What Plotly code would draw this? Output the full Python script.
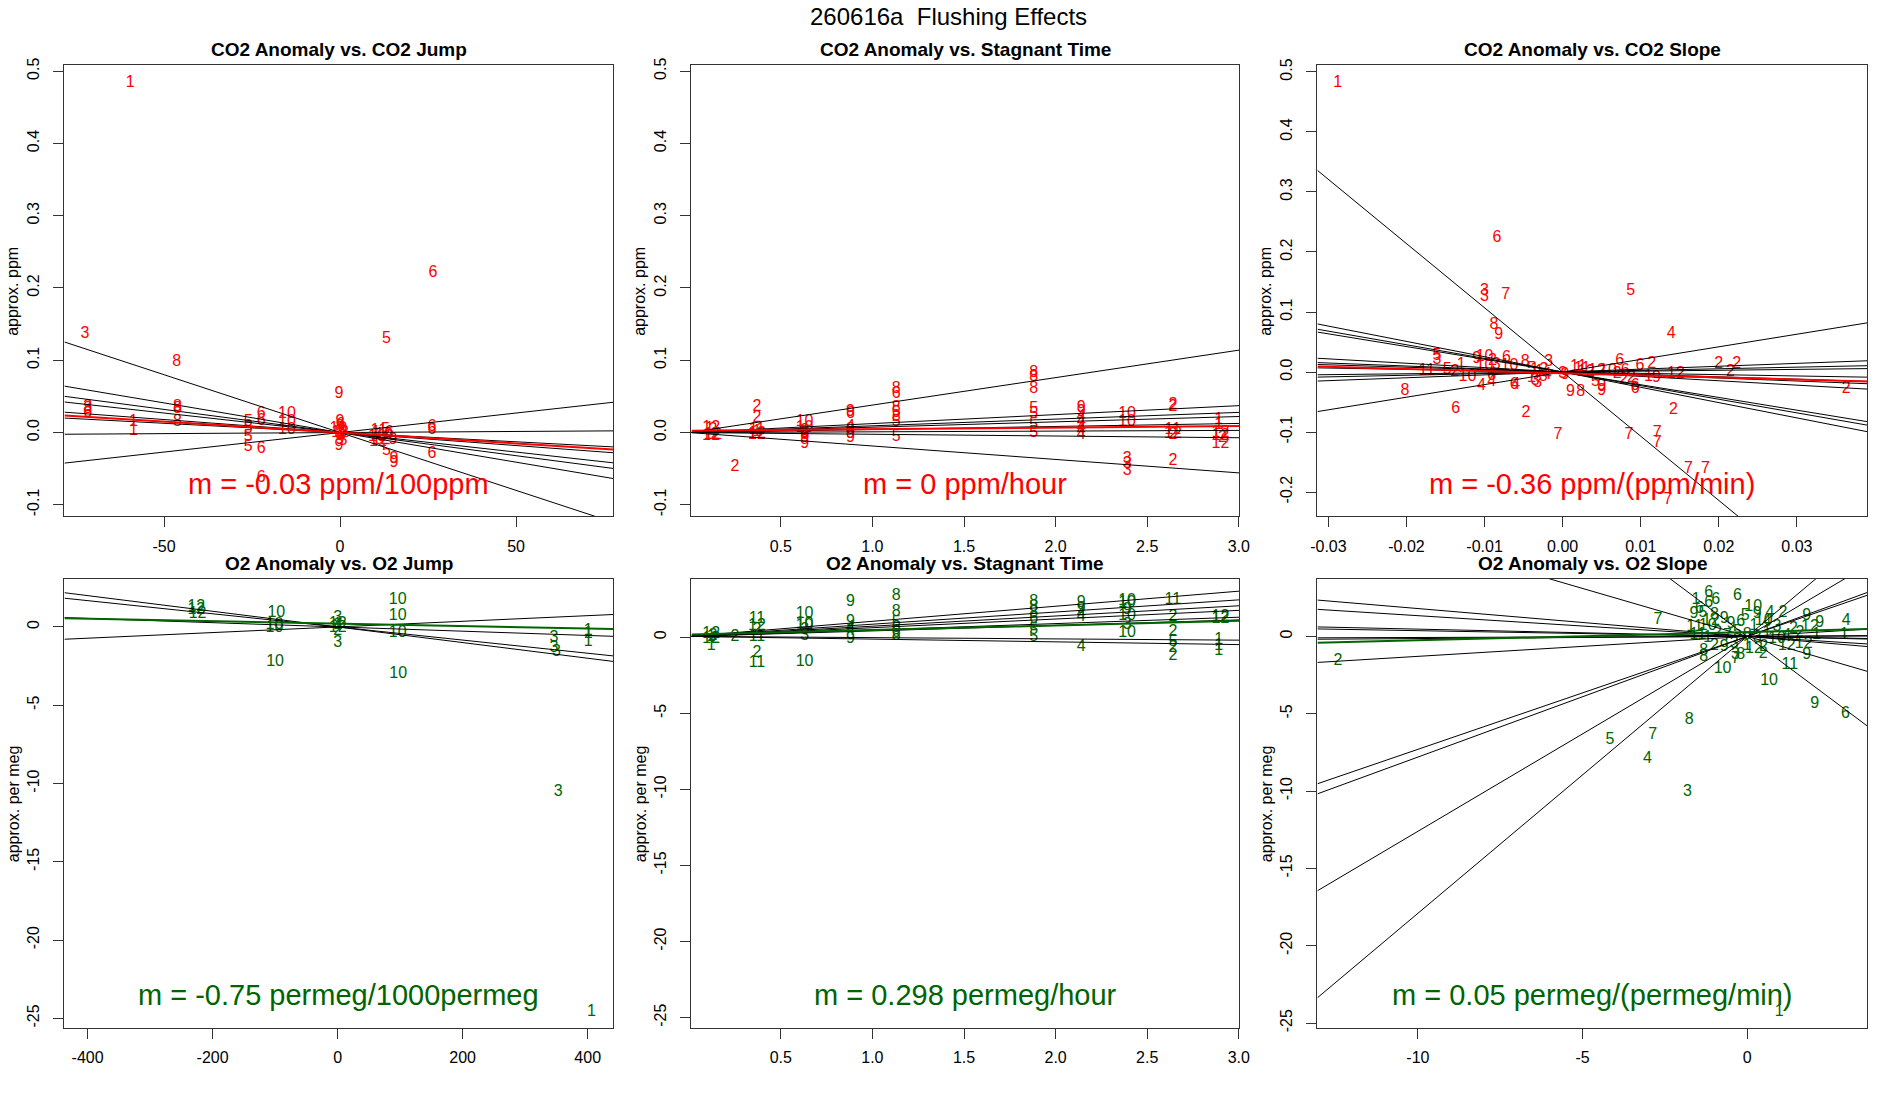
import plotly.graph_objects as go

W, H = 1900, 1100
FONT = "Liberation Sans, Arial, Helvetica, sans-serif"
RED = "#FF0000"
GREEN = "#006400"

MAIN_TITLE = "260616a  Flushing Effects"

# ---------------- Panel 1: CO2 Anomaly vs. CO2 Jump ----------------
p1_points = [("1", -59.6, 0.483), ("3", -72.5, 0.136), ("8", -46.4, 0.097), ("6", 26.4, 0.221),
             ("5", 13.2, 0.130), ("9", -0.3, 0.054), ("3", -71.7, 0.036), ("8", -71.7, 0.033),
             ("6", -71.7, 0.027), ("1", -58.7, 0.015), ("1", -58.7, 0.002), ("8", -46.2, 0.036),
             ("8", -46.2, 0.032), ("8", -46.2, 0.015), ("5", -26.1, 0.015), ("5", -26.1, 0.005),
             ("5", -26.1, -0.006), ("5", -26.1, -0.020), ("6", -22.4, 0.025), ("6", -22.4, 0.016),
             ("6", -22.4, -0.023), ("10", -15.1, 0.026), ("10", -15.1, 0.014), ("10", -15.1, 0.003),
             ("6", -22.4, -0.063),
             ("9", 0.0, 0.015), ("8", 0.0, 0.008), ("3", 0.5, 0.002), ("12", 0.0, 0.0), ("4", 0.5, -0.004),
             ("9", 0.0, -0.010), ("9", -0.3, -0.018), ("5", 0.8, -0.012), ("10", -0.5, 0.005),
             ("6", 0.2, 0.011), ("1", 0.3, -0.002),
             ("1", 10.2, -0.001), ("10", 10.5, -0.006), ("11", 11.0, 0.002), ("12", 11.5, -0.010),
             ("5", 12.9, 0.004), ("10", 12.5, -0.004), ("6", 14.0, 0.0), ("5", 13.2, -0.025),
             ("9", 15.0, -0.011), ("9", 15.3, -0.037), ("9", 15.3, -0.042), ("12", 10.8, -0.013),
             ("6", 26.1, 0.008), ("6", 26.1, 0.003), ("6", 26.1, -0.030)]
p1_slopes = [-0.0016, -0.00082, -0.00064, -0.00054, -0.00036, -0.000256, 0.00003, 0.00054]
p1_icpts = [0, 0, 0, 0, 0, 0, 0, 0]
p1_fit = (0.0, -0.0003)
p1_xrange = [-78.3, 77.6]
p1_yrange = [-0.116, 0.508]
p1_xticks = [-50, 0, 50]
p1_xticklabels = ["-50", "0", "50"]
p1_yticks = [-0.1, 0.0, 0.1, 0.2, 0.3, 0.4, 0.5]
p1_yticklabels = ["-0.1", "0.0", "0.1", "0.2", "0.3", "0.4", "0.5"]

# ---------------- Panel 2: CO2 Anomaly vs. Stagnant Time ----------------
p2_points = [("12", 0.12, 0.006), ("1", 0.11, 0.005), ("2", 0.13, 0.004), ("12", 0.12, -0.005),
             ("12", 0.13, -0.003), ("2", 0.14, -0.004), ("2", 0.25, -0.048),
             ("2", 0.37, 0.036), ("2", 0.37, 0.020), ("11", 0.37, 0.003), ("12", 0.37, -0.002),
             ("1", 0.37, 0.001), ("12", 0.37, -0.004),
             ("10", 0.63, 0.015), ("10", 0.63, 0.006), ("9", 0.63, 0.002), ("6", 0.63, 0.0),
             ("9", 0.63, -0.008), ("9", 0.63, -0.016), ("3", 0.63, -0.004),
             ("9", 0.88, 0.029), ("6", 0.88, 0.025), ("4", 0.88, 0.008), ("8", 0.88, 0.003),
             ("9", 0.88, -0.002), ("9", 0.88, -0.007),
             ("8", 1.13, 0.060), ("6", 1.13, 0.054), ("8", 1.13, 0.034), ("5", 1.13, 0.027),
             ("8", 1.13, 0.022), ("5", 1.13, 0.015), ("5", 1.13, -0.006),
             ("8", 1.88, 0.082), ("8", 1.88, 0.077), ("8", 1.88, 0.060), ("5", 1.88, 0.032),
             ("5", 1.88, 0.025), ("5", 1.88, 0.010), ("5", 1.88, -0.001),
             ("9", 2.14, 0.034), ("9", 2.14, 0.028), ("4", 2.14, 0.022), ("4", 2.14, 0.015),
             ("4", 2.14, 0.006), ("4", 2.14, 0.002), ("4", 2.14, -0.004),
             ("10", 2.39, 0.025), ("10", 2.39, 0.015), ("3", 2.39, -0.037), ("3", 2.39, -0.043),
             ("3", 2.39, -0.053),
             ("2", 2.64, 0.038), ("2", 2.64, 0.035), ("11", 2.64, 0.004), ("12", 2.64, -0.002),
             ("2", 2.64, -0.004), ("2", 2.64, -0.040),
             ("1", 2.89, 0.017), ("1", 2.89, 0.011), ("12", 2.90, -0.001), ("12", 2.90, -0.005),
             ("2", 2.91, -0.008), ("12", 2.90, -0.016)]
p2_slopes = [0.038, 0.0124, 0.0093, 0.0074, 0.0042, 0.001, -0.0024, -0.0186]
p2_icpts = [0.0, 0.0, 0.0, 0.0, 0.0, 0.0, 0.0, 0.0]
p2_fit = (0.0025, 0.0022)
p2_xrange = [0.0124, 3.002]
p2_yrange = [-0.116, 0.508]
p2_xticks = [0.5, 1.0, 1.5, 2.0, 2.5, 3.0]
p2_xticklabels = ["0.5", "1.0", "1.5", "2.0", "2.5", "3.0"]
p2_yticks = p1_yticks
p2_yticklabels = p1_yticklabels

# ---------------- Panel 3: CO2 Anomaly vs. CO2 Slope ----------------
p3_points = [("1", -0.0288, 0.482), ("6", -0.0084, 0.224), ("3", -0.0100, 0.135), ("3", -0.0100, 0.125),
             ("7", -0.0073, 0.129), ("5", 0.0087, 0.135), ("8", -0.0088, 0.079), ("9", -0.0082, 0.061),
             ("4", 0.0139, 0.064), ("5", -0.0161, 0.026), ("3", -0.0161, 0.020), ("11", -0.0174, 0.001),
             ("5", -0.0148, 0.003), ("2", -0.0138, 0.000), ("1", -0.0130, 0.011), ("9", -0.0110, 0.022),
             ("10", -0.0100, 0.025), ("10", -0.0100, 0.010), ("2", -0.0090, 0.018), ("6", -0.0072, 0.024),
             ("10", -0.0068, 0.010), ("3", -0.0085, 0.012), ("10", -0.0122, -0.009), ("4", -0.0104, -0.023),
             ("4", -0.0091, -0.017), ("6", -0.0091, -0.006), ("8", -0.0202, -0.031), ("6", -0.0137, -0.061),
             ("4", -0.0060, -0.021), ("6", -0.0062, -0.022), ("2", -0.0047, -0.069), ("8", -0.0048, 0.017),
             ("7", -0.0006, -0.105), ("1", -0.0040, -0.010), ("3", -0.0035, -0.015), ("5", -0.0040, 0.005),
             ("1", -0.0030, 0.000), ("5", -0.0025, -0.008), ("3", -0.0032, -0.018), ("4", -0.0020, -0.005),
             ("12", -0.0030, 0.003), ("3", -0.0018, 0.017), ("3", 0.0000, -0.004), ("9", 0.0003, -0.005),
             ("11", 0.0020, 0.009), ("11", 0.0025, 0.005), ("12", 0.0030, 0.000), ("12", 0.0044, 0.002),
             ("9", 0.0010, -0.033), ("8", 0.0023, -0.033), ("5", 0.0042, -0.017), ("9", 0.0050, -0.023),
             ("9", 0.0050, -0.031), ("10", 0.0058, 0.002), ("2", 0.0070, -0.004), ("6", 0.0080, 0.001),
             ("2", 0.0088, -0.010), ("6", 0.0073, 0.018), ("6", 0.0099, 0.010), ("2", 0.0114, 0.014),
             ("6", 0.0093, -0.023), ("6", 0.0093, -0.028), ("2", 0.0078, -0.014), ("1", 0.0110, -0.008),
             ("9", 0.0120, -0.010), ("12", 0.0145, -0.003), ("2", 0.0142, -0.064), ("2", 0.0200, 0.014),
             ("2", 0.0223, 0.013), ("2", 0.0215, 0.000), ("2", 0.0363, -0.028), ("7", 0.0085, -0.105),
             ("7", 0.0121, -0.102), ("7", 0.0121, -0.119), ("7", 0.0161, -0.162), ("7", 0.0183, -0.162),
             ("7", 0.0135, -0.213)]
p3_slopes = [-10.7, -2.55, -2.27, -2.12, -0.73, -0.5, -0.4, -0.22, 0.146, 0.27, 0.48, 2.1]
p3_icpts = [0] * 12
p3_fit = (-0.002, -0.35)
p3_xrange = [-0.0314, 0.039]
p3_yrange = [-0.2406, 0.511]
p3_xticks = [-0.03, -0.02, -0.01, 0.0, 0.01, 0.02, 0.03]
p3_xticklabels = ["-0.03", "-0.02", "-0.01", "0.00", "0.01", "0.02", "0.03"]
p3_yticks = [-0.2, -0.1, 0.0, 0.1, 0.2, 0.3, 0.4, 0.5]
p3_yticklabels = ["-0.2", "-0.1", "0.0", "0.1", "0.2", "0.3", "0.4", "0.5"]

# ---------------- Panel 4: O2 Anomaly vs. O2 Jump ----------------
p4_points = [("12", -226, 1.28), ("12", -226, 1.10), ("12", -224, 0.85), ("10", -98, 0.88),
             ("10", -101, 0.12), ("10", -101, -0.05), ("10", -100, -2.27), ("3", 0, 0.55),
             ("12", 0, 0.2), ("4", 0, 0.05), ("12", 0, -0.1), ("1", 0, 0.1), ("2", 0, -0.25),
             ("3", 0, -1.0), ("10", 96, 1.73), ("10", 96, 0.72), ("10", 96, -0.40), ("10", 97, -3.03),
             ("3", 346, -0.70), ("3", 346, -1.37), ("3", 350, -1.62), ("3", 353, -10.57),
             ("1", 401, -0.25), ("1", 401, -0.47), ("1", 401, -0.97), ("1", 406, -24.6)]
p4_slopes = [-0.0050, -0.0042, -0.00136, 0.0018]
p4_icpts = [0, 0, 0, 0]
p4_fit = (0.21, -0.00079)
p4_xrange = [-437, 440.8]
p4_yrange = [-25.6, 3.08]
p4_xticks = [-400, -200, 0, 200, 400]
p4_xticklabels = ["-400", "-200", "0", "200", "400"]
p4_yticks = [-25, -20, -15, -10, -5, 0]
p4_yticklabels = ["-25", "-20", "-15", "-10", "-5", "0"]

# ---------------- Panel 5: O2 Anomaly vs. Stagnant Time ----------------
p5_points = [("12", 0.12, 0.2), ("1", 0.12, 0.0), ("2", 0.13, 0.1), ("12", 0.12, -0.15),
             ("1", 0.12, -0.55), ("2", 0.14, -0.1), ("2", 0.25, 0.02),
             ("11", 0.37, 1.18), ("12", 0.37, 0.72), ("2", 0.37, 0.5), ("11", 0.37, 0.02),
             ("2", 0.37, -1.06), ("11", 0.37, -1.67),
             ("10", 0.63, 1.53), ("10", 0.63, 0.88), ("10", 0.63, 0.72), ("3", 0.63, 0.09),
             ("3", 0.63, 0.45), ("10", 0.63, -1.62),
             ("9", 0.88, 2.34), ("9", 0.88, 1.02), ("4", 0.88, 0.6), ("4", 0.88, 0.4), ("9", 0.88, -0.09),
             ("8", 1.13, 2.73), ("8", 1.13, 1.64), ("5", 1.13, 0.95), ("6", 1.13, 0.6), ("6", 1.13, 0.3),
             ("8", 1.13, 0.09),
             ("8", 1.88, 2.34), ("8", 1.88, 2.0), ("8", 1.88, 1.6), ("6", 1.88, 1.18), ("5", 1.88, 0.49),
             ("5", 1.88, 0.02),
             ("9", 2.14, 2.22), ("9", 2.14, 1.87), ("4", 2.14, 1.55), ("4", 2.14, 1.30), ("4", 2.14, -0.62),
             ("10", 2.39, 2.40), ("10", 2.39, 2.25), ("9", 2.39, 1.76), ("10", 2.39, 1.41), ("3", 2.39, 0.8),
             ("10", 2.39, 0.25),
             ("11", 2.64, 2.45), ("2", 2.64, 1.30), ("2", 2.64, 0.37), ("5", 2.64, -0.32), ("2", 2.64, -0.74),
             ("2", 2.64, -1.25),
             ("12", 2.90, 1.30), ("12", 2.90, 1.18), ("1", 2.89, -0.20), ("1", 2.89, -0.55), ("1", 2.89, -0.90)]
p5_slopes = [0.99, 0.80, 0.67, 0.57, 0.42, 0.36, -0.083, -0.18]
p5_icpts = [0.05] * 8
p5_fit = (0.17, 0.30)
p5_xrange = [0.0124, 3.002]
p5_yrange = [-25.67, 3.84]
p5_xticks = p2_xticks
p5_xticklabels = p2_xticklabels
p5_yticks = p4_yticks
p5_yticklabels = p4_yticklabels

# ---------------- Panel 6: O2 Anomaly vs. O2 Slope ----------------
p6_points = [("6", -0.30, 2.58), ("6", -1.17, 2.83), ("6", -0.96, 2.38), ("6", -1.17, 2.13), ("1", -1.56, 2.38),
             ("6", -1.45, 1.75), ("9", -1.62, 1.45), ("5", -1.35, 1.5), ("10", 0.18, 1.87), ("7", -2.71, 1.05),
             ("4", 0.69, 1.49), ("2", 1.08, 1.49), ("5", -0.06, 1.3), ("9", 0.30, 1.42), ("8", -1.0, 1.4),
             ("9", -0.7, 1.1), ("12", -1.1, 1.0), ("11", -1.6, 0.6), ("10", -1.2, 0.7), ("9", -0.5, 0.8),
             ("6", -0.2, 0.9), ("1", 0.2, 0.7), ("4", 0.6, 0.9), ("3", 0.9, 0.6), ("2", 1.4, 0.5),
             ("12", 1.9, 0.6), ("9", 2.2, 0.85), ("10", 0.5, 1.0), ("9", 1.8, 1.3),
             ("11", -1.5, 0.1), ("1", -1.2, -0.1), ("2", -0.9, 0.2), ("7", -0.6, 0.0), ("5", -0.3, 0.3),
             ("8", 0.0, 0.1), ("3", 0.3, -0.1), ("1", 0.6, 0.2), ("10", 0.9, -0.2), ("4", 1.2, 0.0),
             ("2", 1.6, 0.2), ("1", 2.1, 0.1), ("1", 2.94, 0.08), ("4", 3.0, 1.0),
             ("2", -1.0, -0.6), ("9", -0.7, -0.7), ("3", -0.4, -0.5), ("1", 0.0, -0.6), ("12", 0.2, -0.8),
             ("2", 0.5, -0.7), ("12", 1.2, -0.6), ("12", 1.71, -0.5), ("9", 1.8, -1.2), ("11", 1.29, -1.83),
             ("10", 0.66, -2.9), ("10", -0.75, -2.1), ("9", 2.05, -4.4), ("6", 2.98, -5.0),
             ("8", -1.32, -0.94), ("8", -1.32, -1.3), ("3", -0.36, -1.2), ("7", -0.36, -1.45),
             ("8", -0.2, -1.2), ("2", 0.48, -1.12), ("2", -12.43, -1.6), ("5", -4.17, -6.69),
             ("7", -2.87, -6.35), ("4", -3.03, -7.92), ("8", -1.76, -5.41), ("3", -1.82, -10.08),
             ("1", 0.97, -24.3)]
p6_slopes = [-1.59, -0.62, -0.18, -0.134, -0.047, -0.037, 0.007, 0.014, 0.129, 0.73, 0.78, 1.26, 1.79]
p6_icpts = [0] * 13
p6_fit = (0.28, 0.053)
p6_xrange = [-13.05, 3.64]
p6_yrange = [-25.3, 3.73]
p6_xticks = [-10, -5, 0]
p6_xticklabels = ["-10", "-5", "0"]
p6_yticks = p4_yticks
p6_yticklabels = p4_yticklabels

titles = ["CO2 Anomaly vs. CO2 Jump", "CO2 Anomaly vs. Stagnant Time", "CO2 Anomaly vs. CO2 Slope",
          "O2 Anomaly vs. O2 Jump", "O2 Anomaly vs. Stagnant Time", "O2 Anomaly vs. O2 Slope"]
ylabels = ["approx. ppm", "approx. ppm", "approx. ppm",
           "approx. per meg", "approx. per meg", "approx. per meg"]
mtexts = ["m = -0.03 ppm/100ppm", "m = 0 ppm/hour", "m = -0.36 ppm/(ppm/min)",
          "m = -0.75 permeg/1000permeg", "m = 0.298 permeg/hour", "m = 0.05 permeg/(permeg/min)"]

panels = [
    (p1_points, p1_slopes, p1_icpts, p1_fit, p1_xrange, p1_yrange, p1_xticks, p1_xticklabels, p1_yticks, p1_yticklabels, RED),
    (p2_points, p2_slopes, p2_icpts, p2_fit, p2_xrange, p2_yrange, p2_xticks, p2_xticklabels, p2_yticks, p2_yticklabels, RED),
    (p3_points, p3_slopes, p3_icpts, p3_fit, p3_xrange, p3_yrange, p3_xticks, p3_xticklabels, p3_yticks, p3_yticklabels, RED),
    (p4_points, p4_slopes, p4_icpts, p4_fit, p4_xrange, p4_yrange, p4_xticks, p4_xticklabels, p4_yticks, p4_yticklabels, GREEN),
    (p5_points, p5_slopes, p5_icpts, p5_fit, p5_xrange, p5_yrange, p5_xticks, p5_xticklabels, p5_yticks, p5_yticklabels, GREEN),
    (p6_points, p6_slopes, p6_icpts, p6_fit, p6_xrange, p6_yrange, p6_xticks, p6_xticklabels, p6_yticks, p6_yticklabels, GREEN),
]

# layout geometry (pixels)
col_px = [(58, 612), (691, 1244), (1323, 1878)]
row_px = [(58, 514), (577, 1031)]


def px_x(p):
    return p / W


def px_y(p):
    return 1 - p / H


fig = go.Figure()
layout = dict(width=W, height=H, margin=dict(l=0, r=0, t=0, b=0),
              paper_bgcolor="white", plot_bgcolor="white", showlegend=False,
              font=dict(family=FONT, color="black", size=15))
annotations = []
AXCOL = "#333333"

for i, (pts, slopes, icpts, fit, xr, yr, xt, xtl, yt, ytl, col) in enumerate(panels):
    r, c = divmod(i, 3)
    n = "" if i == 0 else str(i + 1)
    xa, ya = "x" + n, "y" + n
    x0, x1 = col_px[c]
    y0, y1 = row_px[r]

    labs = [p[0] for p in pts]
    xs = [p[1] for p in pts]
    ys = [p[2] for p in pts]
    fig.add_trace(go.Scatter(x=xs, y=ys, text=labs, mode="text", textposition="middle center",
                             textfont=dict(family=FONT, size=16, color=col), hoverinfo="skip",
                             xaxis=xa, yaxis=ya))
    lx, ly = [], []
    for a, b in zip(icpts, slopes):
        lx += [xr[0], xr[1], None]
        ly += [a + b * xr[0], a + b * xr[1], None]
    fig.add_trace(go.Scatter(x=lx, y=ly, mode="lines", line=dict(color="black", width=1),
                             hoverinfo="skip", xaxis=xa, yaxis=ya))
    fa, fb = fit
    fig.add_trace(go.Scatter(x=[xr[0], xr[1]], y=[fa + fb * xr[0], fa + fb * xr[1]], mode="lines",
                             line=dict(color=col, width=2), hoverinfo="skip", xaxis=xa, yaxis=ya))

    common = dict(showgrid=False, zeroline=False, showline=True, linecolor=AXCOL, linewidth=1,
                  mirror=True, ticks="outside", ticklen=10, tickcolor=AXCOL, tickwidth=1,
                  tickfont=dict(family=FONT, size=16, color="black"), tickmode="array")
    layout["xaxis" + n] = dict(common, domain=[px_x(x0), px_x(x1)], range=xr, anchor=ya,
                               tickvals=xt, ticktext=xtl, ticklabelstandoff=5)
    layout["yaxis" + n] = dict(common, domain=[px_y(y1), px_y(y0)], range=yr, anchor=xa,
                               tickvals=yt, ticktext=ytl, tickangle=-90, ticklabelstandoff=8)

    cx = (x0 + x1) / 2
    annotations.append(dict(text="<b>" + titles[i] + "</b>", x=px_x(cx), y=px_y(y0 - 3),
                            xref="paper", yref="paper", xanchor="center", yanchor="bottom",
                            showarrow=False, font=dict(family=FONT, size=19, color="black")))
    annotations.append(dict(text=mtexts[i], x=px_x(cx), y=px_y(y1 - 33), xref="paper", yref="paper",
                            xanchor="center", yanchor="middle", showarrow=False,
                            font=dict(family=FONT, size=29, color=col)))
    annotations.append(dict(text=ylabels[i], x=px_x(x0 - 52), y=px_y((y0 + y1) / 2),
                            xref="paper", yref="paper", xanchor="center", yanchor="middle",
                            textangle=-90, showarrow=False, font=dict(family=FONT, size=16, color="black")))

annotations.append(dict(text=MAIN_TITLE, x=0.5, y=px_y(9), xref="paper", yref="paper",
                        xanchor="center", yanchor="middle", showarrow=False,
                        font=dict(family=FONT, size=24, color="black")))
layout["annotations"] = annotations
fig.update_layout(**layout)
fig.write_html("out.html")
